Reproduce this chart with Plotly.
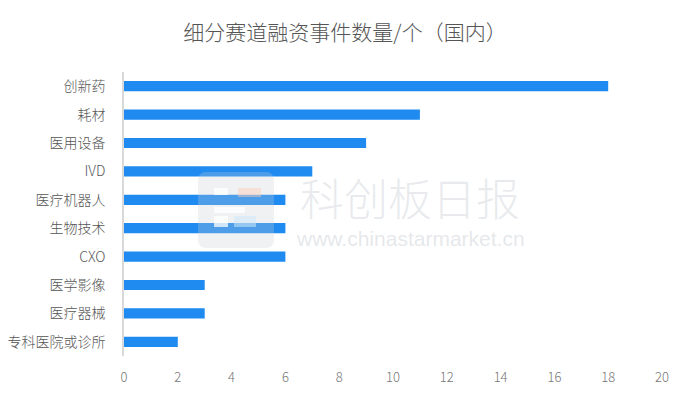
import plotly.graph_objects as go

categories = ["创新药", "耗材", "医用设备", "IVD", "医疗机器人", "生物技术", "CXO", "医学影像", "医疗器械", "专科医院或诊所"]
values = [18, 11, 9, 7, 6, 6, 6, 3, 3, 2]
x_ticks = [0, 2, 4, 6, 8, 10, 12, 14, 16, 18, 20]

FONT = "Noto Sans CJK SC, Noto Sans, sans-serif"

fig = go.Figure()
fig.add_trace(go.Bar(
    x=values, y=categories, orientation="h",
    marker=dict(color="#1f8bf0", line=dict(width=0)),
    hoverinfo="x+y",
))

# watermark logo (rounded square)
x0, x1, y0, y1 = 0.1375, 0.2788, 0.380, 0.648
rx, ry = 0.016, 0.030
path = (f"M {x0+rx},{y0} L {x1-rx},{y0} Q {x1},{y0} {x1},{y0+ry} L {x1},{y1-ry} "
        f"Q {x1},{y1} {x1-rx},{y1} L {x0+rx},{y1} Q {x0},{y1} {x0},{y1-ry} "
        f"L {x0},{y0+ry} Q {x0},{y0} {x0+rx},{y0} Z")
fig.add_shape(type="path", path=path, xref="paper", yref="paper",
              line=dict(width=0), fillcolor="rgba(200,205,212,0.28)", layer="above")
blocks = [
    (0.1673, 0.1933, 0.5669, 0.5915, "rgba(255,255,255,0.75)"),
    (0.2119, 0.2546, 0.5599, 0.5915, "rgba(252,205,185,0.45)"),
    (0.1673, 0.2249, 0.5035, 0.5246, "rgba(255,255,255,0.75)"),
    (0.1673, 0.1933, 0.4542, 0.4930, "rgba(255,255,255,0.75)"),
    (0.2045, 0.2454, 0.4542, 0.4930, "rgba(205,232,250,0.55)"),
]
for bx0, bx1, by0, by1, c in blocks:
    fig.add_shape(type="rect", xref="paper", yref="paper", x0=bx0, x1=bx1, y0=by0, y1=by1,
                  line=dict(width=0), fillcolor=c, layer="above")

fig.add_annotation(text="科创板日报", xref="paper", yref="paper", x=0.532, y=0.56, xanchor="center", yanchor="middle",
                   showarrow=False, font=dict(family=FONT, size=44, weight=300, color="rgba(190,196,204,0.35)"))
fig.add_annotation(text="www.chinastarmarket.cn", xref="paper", yref="paper", x=0.532, y=0.415, xanchor="center", yanchor="middle",
                   showarrow=False, font=dict(family="Liberation Sans, Arial, sans-serif", size=21, color="rgba(190,196,204,0.4)"))

fig.update_layout(
    width=690, height=398,
    margin=dict(l=124, r=28, t=72, b=42),
    paper_bgcolor="white", plot_bgcolor="white",
    bargap=0.64,
    showlegend=False,
    title=dict(text="细分赛道融资事件数量/个（国内）", x=0.5, xanchor="center", y=0.917, yanchor="middle",
               font=dict(family=FONT, size=21, weight=300, color="#555555")),
    font=dict(family=FONT, size=12, weight=300, color="#666666"),
    xaxis=dict(range=[0, 20], tickvals=x_ticks, showgrid=False, zeroline=False, showline=False,
               ticks="", tickfont=dict(size=13, weight=300, color="#777777"), ticklabelstandoff=12, automargin=False),
    yaxis=dict(autorange="reversed", showgrid=False, zeroline=False, showline=True,
               linecolor="#d9d9d9", linewidth=1.5, ticks="", ticklabelstandoff=14,
               tickfont=dict(size=14, weight=300, color="#555555"), automargin=False),
)

fig.write_html("out.html", config={"displayModeBar": False},
               post_script="document.body.style.margin='0';")
